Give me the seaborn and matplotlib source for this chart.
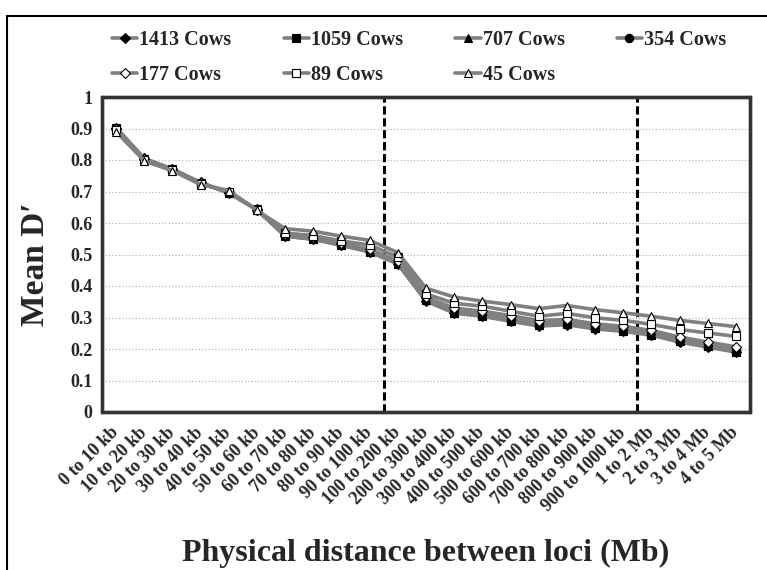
import matplotlib.pyplot as plt
import numpy as np
import pandas as pd
import seaborn as sns
from matplotlib.patches import Rectangle

# categories on the x axis
distance_bins = [
    "0 to 10 kb", "10 to 20 kb", "20 to 30 kb", "30 to 40 kb", "40 to 50 kb",
    "50 to 60 kb", "60 to 70 kb", "70 to 80 kb", "80 to 90 kb", "90 to 100 kb",
    "100 to 200 kb", "200 to 300 kb", "300 to 400 kb", "400 to 500 kb",
    "500 to 600 kb", "600 to 700 kb", "700 to 800 kb", "800 to 900 kb",
    "900 to 1000 kb", "1 to 2 Mb", "2 to 3 Mb", "3 to 4 Mb", "4 to 5 Mb",
]

# mean D' per sample size
cows_1413 = [0.903, 0.805, 0.771, 0.729, 0.695, 0.643, 0.558, 0.548, 0.529, 0.508, 0.470, 0.352,
             0.314, 0.304, 0.288, 0.273, 0.277, 0.264, 0.256, 0.244, 0.222, 0.206, 0.190]
cows_1059 = [0.902, 0.804, 0.771, 0.728, 0.695, 0.643, 0.559, 0.549, 0.530, 0.509, 0.471, 0.354,
             0.315, 0.305, 0.290, 0.275, 0.279, 0.266, 0.258, 0.246, 0.224, 0.208, 0.192]
cows_707 = [0.901, 0.804, 0.770, 0.728, 0.696, 0.642, 0.560, 0.550, 0.531, 0.510, 0.472, 0.355,
            0.317, 0.307, 0.292, 0.277, 0.281, 0.268, 0.260, 0.248, 0.226, 0.210, 0.194]
cows_354 = [0.900, 0.803, 0.770, 0.727, 0.697, 0.642, 0.561, 0.551, 0.533, 0.512, 0.474, 0.358,
            0.320, 0.310, 0.296, 0.280, 0.284, 0.271, 0.263, 0.251, 0.229, 0.212, 0.197]
cows_177 = [0.898, 0.802, 0.769, 0.726, 0.698, 0.642, 0.564, 0.554, 0.537, 0.516, 0.480, 0.364,
            0.330, 0.320, 0.306, 0.290, 0.294, 0.280, 0.272, 0.259, 0.238, 0.222, 0.207]
cows_89 = [0.895, 0.800, 0.768, 0.724, 0.700, 0.641, 0.568, 0.560, 0.543, 0.530, 0.492, 0.375,
           0.345, 0.336, 0.320, 0.304, 0.313, 0.299, 0.291, 0.278, 0.262, 0.251, 0.240]
cows_45 = [0.890, 0.797, 0.766, 0.722, 0.703, 0.640, 0.582, 0.574, 0.558, 0.545, 0.506, 0.393,
           0.365, 0.352, 0.341, 0.328, 0.338, 0.325, 0.315, 0.304, 0.291, 0.281, 0.271]

series_labels = ["1413 Cows", "1059 Cows", "707 Cows", "354 Cows", "177 Cows", "89 Cows", "45 Cows"]
series_values = [cows_1413, cows_1059, cows_707, cows_354, cows_177, cows_89, cows_45]
y_ticks = [0, 0.1, 0.2, 0.3, 0.4, 0.5, 0.6, 0.7, 0.8, 0.9, 1]

# marker style per series: (marker, face colour)
styles = [("D", "black"), ("s", "black"), ("^", "black"), ("o", "black"),
          ("D", "white"), ("s", "white"), ("^", "white")]

sns.set_theme(style="white")
plt.rcParams["font.family"] = ["Liberation Serif", "DejaVu Serif"]
plt.rcParams["font.weight"] = "bold"

fig = plt.figure(figsize=(7.67, 5.70), dpi=100)
ax = fig.add_axes([102 / 767, 1 - 412 / 570, 648 / 767, 315 / 570])

xpos = np.arange(len(distance_bins))
for label, vals, (mk, fc) in zip(series_labels, series_values, styles):
    df = pd.DataFrame({"x": xpos, "y": vals})
    ms = 5.4 if mk == "D" else 6.0
    sns.lineplot(data=df, x="x", y="y", ax=ax, color="#808080", linewidth=2.6,
                 marker=mk, markersize=ms, markerfacecolor=fc,
                 markeredgecolor="black", markeredgewidth=0.8, label=label, zorder=3)

ax.set_xlim(-0.5, len(distance_bins) - 0.5)
ax.set_ylim(0, 1)

# region separators
for xb in (9.5, 18.5):
    ax.axvline(xb, color="black", linewidth=2.2, dashes=(2.7, 1.2), zorder=2)

ax.set_yticks(y_ticks)
ax.set_yticklabels([f"{v:g}" for v in y_ticks], fontsize=13, fontweight="bold")
ax.yaxis.grid(True, color="#b8b8b8", linestyle=":", linewidth=0.9)
ax.set_axisbelow(True)

ax.set_xticks(xpos)
ax.set_xticklabels(distance_bins, rotation=45, ha="right", va="center",
                   rotation_mode="anchor", fontsize=13, fontweight="bold")
ax.set_xticks(np.arange(-0.5, len(distance_bins)), minor=True)
ax.tick_params(axis="x", which="major", length=0, pad=13)
ax.tick_params(axis="x", which="minor", length=4, width=0.8, direction="out", color="black")
ax.tick_params(axis="y", length=3, width=0.8, direction="out", color="black", pad=4)
ax.set_xlabel("")
ax.set_ylabel("")

for sp in ax.spines.values():
    sp.set_visible(True)
    sp.set_color("#333333")
    sp.set_linewidth(2.4)
    sp.set_linestyle((0, (0.5, 0.3)))

# legend filled row by row like the original (matplotlib fills columns first)
ax.legend_.remove()
handles, labels = ax.get_legend_handles_labels()
order = [0, 4, 1, 5, 2, 6, 3]
fig.legend([handles[i] for i in order], [labels[i] for i in order], ncol=4,
           loc="upper left", bbox_to_anchor=(112 / 767, 1 - 30 / 570), frameon=False,
           prop={"family": "Liberation Serif", "weight": "bold", "size": 14.5},
           handlelength=1.25, handletextpad=0.1, columnspacing=2.6,
           labelspacing=0.75, borderpad=0, borderaxespad=0)

fig.text(35 / 767, 1 - 264 / 570, "Mean D\u2032", rotation=90, ha="center", va="center",
         fontsize=24, fontweight="bold")
fig.text(426 / 767, (570 - 561) / 570, "Physical distance between loci (Mb)",
         ha="center", va="baseline", fontsize=23, fontweight="bold")

fig.add_artist(Rectangle((7 / 767, -0.02), 1.0, 1 - 16 / 570 + 0.02,
                         transform=fig.transFigure, fill=False,
                         edgecolor="black", linewidth=1.5))

fig.savefig("out.png", dpi=100)
